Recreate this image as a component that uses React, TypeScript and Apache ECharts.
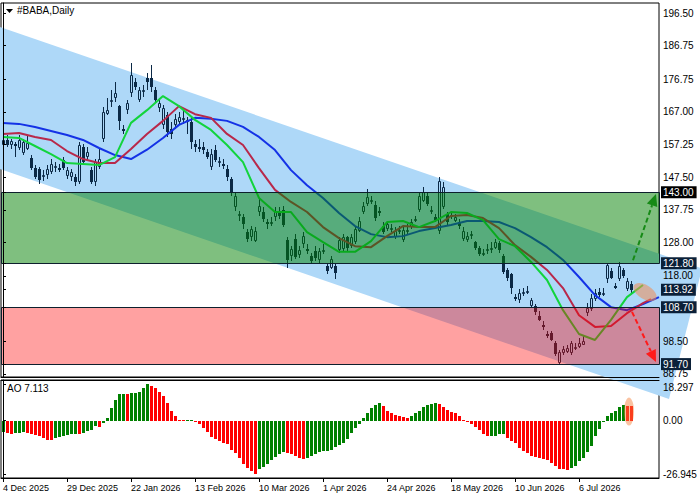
import React, { useEffect, useRef } from "react";
import * as echarts from "echarts";

// ---------- data ----------
const OPEN = [157.0,158.6,157.2,157.5,156.2,154.7,156.0,153.2,150.2,149.8,148.0,148.0,149.0,150.5,150.2,152.5,147.8,147.5,147.5,146.0,156.5,153.5,149.5,146.0,150.5,159.0,166.5,170.0,171.0,168.6,162.0,167.5,172.6,176.0,170.5,173.3,177.0,177.2,173.5,168.0,163.0,166.0,162.0,163.0,164.0,165.0,164.0,164.0,157.5,156.5,156.5,155.0,150.5,155.5,152.0,151.5,150.0,147.0,138.5,136.0,135.5,131.0,129.5,128.5,137.2,137.0,134.0,134.0,135.5,137.0,137.8,128.7,124.0,129.0,124.4,127.5,126.2,124.0,125.5,122.8,125.5,121.0,120.5,121.0,125.8,126.0,129.5,127.0,128.0,131.5,137.0,139.5,140.5,139.2,137.5,133.0,132.0,132.0,129.5,131.5,128.7,131.5,132.5,134.5,137.7,140.5,142.0,137.5,135.5,131.5,138.5,136.5,136.0,134.5,134.0,129.0,128.7,130.0,128.0,126.5,124.8,125.5,126.0,126.5,127.7,124.0,119.8,118.5,111.8,110.8,112.5,113.0,109.0,109.0,106.0,103.5,100.8,100.9,98.0,92.0,95.0,95.3,95.0,96.5,96.9,97.5,107.0,108.0,111.0,113.2,112.5,117.0,119.5,114.9,117.0,119.8,114.0,115.5];
const HIGH = [159.5,160.0,159.0,158.0,160.2,159.0,160.0,154.0,151.0,150.5,149.5,151.0,153.0,152.0,151.5,153.5,150.5,150.0,148.5,158.0,157.5,156.5,150.5,153.0,156.0,168.5,171.0,173.5,176.0,169.0,163.0,170.5,181.6,177.0,174.5,175.0,178.5,181.0,174.5,171.0,169.0,167.0,164.0,166.5,167.0,167.5,165.5,165.5,158.5,159.0,158.0,156.0,156.0,157.0,153.5,153.0,151.0,147.5,143.0,137.5,136.5,132.0,133.0,132.5,141.0,138.5,135.0,135.5,138.5,138.5,139.0,129.5,127.0,130.5,127.0,131.0,127.5,125.0,127.0,126.5,127.5,122.0,124.0,121.5,129.5,130.5,130.0,130.5,133.0,135.5,140.0,144.0,142.0,140.5,138.5,134.0,134.5,133.5,132.5,133.0,133.0,133.5,135.0,136.0,143.0,144.5,143.0,139.0,136.5,147.5,146.0,137.0,137.0,136.5,135.0,132.5,131.0,131.5,128.5,127.0,126.0,127.5,128.0,129.0,128.5,124.5,120.5,119.0,112.5,114.0,114.5,115.0,111.5,109.5,107.5,104.5,101.5,101.5,98.5,96.0,97.0,97.5,98.5,98.0,99.5,100.0,110.0,112.5,114.0,114.5,114.5,122.0,120.5,116.0,122.2,120.5,117.5,116.5];
const LOW = [156.0,156.5,156.0,153.5,155.5,154.0,155.5,149.5,147.0,145.5,146.5,147.0,148.5,149.0,149.0,149.5,147.0,146.5,145.0,145.5,151.0,152.5,145.5,145.0,150.0,158.0,166.0,168.5,170.0,161.5,160.5,166.5,171.5,173.5,170.0,171.5,173.5,173.0,169.5,167.0,162.0,159.5,159.0,162.0,163.0,163.5,160.5,156.0,155.0,155.0,154.5,153.0,149.5,152.0,150.5,150.0,146.5,142.0,137.5,134.5,132.0,128.0,128.5,128.0,136.0,134.0,132.0,133.0,134.5,135.0,132.5,120.5,122.5,123.0,123.5,126.5,124.5,121.5,122.5,122.0,124.5,118.5,120.0,117.0,125.0,125.5,125.5,126.5,127.5,131.0,136.5,139.0,139.5,134.5,136.0,130.5,131.5,131.0,129.0,130.5,128.0,130.5,132.0,134.0,137.0,140.0,139.0,136.5,134.0,130.5,138.0,133.0,135.0,134.0,132.0,128.5,128.0,129.0,125.8,124.0,124.0,124.5,125.0,126.0,125.0,118.5,116.5,112.5,110.5,110.0,112.0,112.5,108.5,106.5,104.5,102.0,99.5,98.5,94.0,91.4,94.5,95.0,94.5,96.0,96.5,97.5,106.0,107.5,110.5,111.8,112.0,116.0,117.0,114.0,116.5,117.5,113.5,113.0];
const CLOSE = [158.6,157.2,158.3,157.0,158.6,158.0,157.8,150.2,147.5,146.6,148.2,149.8,151.3,150.8,150.0,150.2,149.6,149.0,146.0,157.0,152.0,155.0,146.0,152.0,153.0,167.0,167.5,170.5,172.5,164.3,161.2,169.7,178.0,174.5,173.5,173.6,175.8,174.5,170.5,169.5,168.0,161.0,160.5,165.0,165.5,165.3,164.5,158.0,156.5,156.3,155.5,153.5,154.5,152.6,152.3,151.0,147.6,143.0,141.9,136.5,133.5,129.0,132.0,131.5,139.0,135.0,133.5,134.2,137.5,136.0,133.3,122.8,126.0,123.8,125.8,130.0,125.8,122.5,123.5,125.5,125.8,119.5,123.0,119.0,128.7,129.5,126.4,129.5,132.0,134.5,139.0,141.5,140.8,135.3,137.0,131.0,133.5,132.3,131.5,131.7,131.7,131.8,134.0,134.9,142.0,143.0,139.5,137.7,134.8,146.5,144.5,134.0,136.3,135.5,133.0,131.5,130.0,130.5,126.5,124.5,125.0,126.0,126.5,128.0,125.8,119.2,117.4,114.4,111.0,112.9,113.2,113.5,110.8,107.2,105.0,103.0,100.5,98.9,94.7,95.3,96.3,96.5,98.0,96.9,98.0,98.5,108.5,111.5,113.0,112.4,113.0,121.3,117.5,114.6,120.9,118.0,116.5,113.92];

// Alligator lines, read every MA_STEP bars (shifted forward past the last bar)
const MA_STEP = 4;
const JAW = [163.7,163.4,162.5,161.3,160.1,158.6,156.2,154.1,152.9,155.7,159.2,163.1,165.2,164.9,164.3,162.5,159.5,155.6,149.6,145.1,141.3,136.8,132.9,130.5,129.6,129.9,131.4,132.3,133.2,134.4,134.4,134.1,132.3,129.6,126.6,122.8,117.7,112.3,108.7,107.8,109.6,111.7];
const JAW_END = 164;
const TEETH = [160.4,160.7,159.5,158.6,155.3,152.9,151.7,151.7,155.9,160.4,164.3,168.7,166.3,165.2,160.4,157.1,150.2,143.7,140.1,137.1,132.6,129.3,126.9,126.6,129.9,132.9,132.6,132.6,135.9,136.2,135.3,132.3,127.2,123.7,119.8,114.4,106.3,102.8,103.1,106.9,109.9,111.1];
const TEETH_END = 162;
const LIPS = [159.5,159.2,156.8,154.4,151.7,151.4,151.1,153.5,163.7,167.5,171.7,168.7,164.6,161.6,157.1,152.0,141.3,137.1,137.1,131.1,128.1,125.2,125.2,128.4,134.1,134.4,132.6,134.4,137.1,136.8,134.7,129.0,126.9,122.2,116.8,107.8,100.7,98.9,104.9,111.7,115.3];
const LIPS_END = 160;

const AO = [-6.0,-6.2,-6.6,-6.3,-6.1,-6.0,-6.3,-6.8,-7.3,-8.0,-8.8,-9.6,-9.8,-9.0,-8.2,-7.6,-7.2,-6.9,-6.8,-6.9,-6.2,-5.4,-4.6,-2.8,-3.0,-1.3,1.5,6.3,10.3,13.2,13.3,13.2,13.8,13.9,14.5,16.5,18.297,17.2,16.3,14.5,12.2,8.8,4.6,2.2,0.3,0.2,0.25,0.3,-0.5,-1.5,-3.8,-5.8,-8.5,-9.4,-10.2,-11.2,-11.9,-14.6,-16.2,-18.6,-21.7,-23.8,-25.5,-26.945,-24.5,-23.5,-21.8,-20.0,-18.4,-16.8,-15.6,-16.2,-17.0,-18.0,-19.0,-19.5,-18.6,-17.6,-16.8,-16.0,-15.5,-15.2,-14.7,-13.5,-12.2,-11.4,-9.2,-6.5,-3.6,-1.6,1.4,4.0,6.5,8.0,8.6,7.2,5.0,4.0,2.6,2.1,1.6,1.2,2.5,4.0,5.0,7.0,8.0,8.4,8.6,8.1,7.0,5.1,4.1,3.9,2.1,0.3,-0.5,-1.6,-3.2,-5.0,-7.0,-8.0,-7.9,-7.7,-7.0,-6.9,-9.0,-10.2,-11.3,-14.0,-15.3,-16.5,-17.7,-18.4,-18.9,-19.3,-20.0,-21.3,-23.0,-24.3,-24.6,-24.7,-24.0,-23.0,-20.5,-19.0,-16.0,-13.0,-8.0,-4.0,-0.8,2.3,4.0,5.0,7.0,8.0,7.5,7.113];

const X_LABELS = ["4 Dec 2025","29 Dec 2025","22 Jan 2026","13 Feb 2026","10 Mar 2026","1 Apr 2026","24 Apr 2026","18 May 2026","10 Jun 2026","6 Jul 2026"];
const X_LABEL_STEP = 16;
const PRICE_TICKS = [196.5,186.75,176.75,167.0,157.25,147.5,137.75,128.0,118.0,98.5,88.75];
const BLACK_LEVELS = [143.0];
const NAVY_LEVELS = [121.8,113.92,108.7,91.7];
const AO_TICKS = [18.297,0,-26.945];

// drawn objects (data coordinates: bar index, price)
const ZONES = [[143.0,121.8],[108.7,91.7]];
const CHANNEL = [[-0.75,192.32],[174.75,120.24],[166.5,81.25],[-0.75,149.94]];
const ARROWS = [[157.5,122.7,163.25,142.5],[157.25,107.3,163.25,92.3]];
const MARK_MAIN = [160.5,113.2];
const MARK_AO = [156.5,4.5];

// ---------- style ----------
const FONT = "'Liberation Sans', Arial, sans-serif";
const CANDLE = "#0b2946";
const ZONE_FILL = ["rgba(0,128,0,0.5)","rgba(255,0,0,0.37)"];
const ARROW_COLORS = ["#168a16","#ff1a1a"];
const Y_MIN = 87.85, Y_MAX = 199.485;
const AO_MIN = -28.9, AO_MAX = 20.4;

const near = (a: number, b: number) => Math.abs(a - b) < 1e-6;

export default function App() {
  const ref = useRef<HTMLDivElement>(null);
  useEffect(() => {
    const chart = echarts.init(ref.current as HTMLDivElement, null, { renderer: "svg" });
    const candleData = OPEN.map((o, i) => [i, o, CLOSE[i], LOW[i], HIGH[i]]);
    const maData = (vals: number[], end: number) => vals.map((v, k) => [Math.min(k * MA_STEP, end), v]);
    const aoData = AO.map((v, i) => [i, v, i === 0 || v >= AO[i - 1] ? 1 : 0]);
    const priceLabels = [...PRICE_TICKS, ...BLACK_LEVELS, ...NAVY_LEVELS];
    const xTicks = X_LABELS.map((_, k) => k * X_LABEL_STEP);
    const textBase = { fontSize: 10, fontFamily: FONT, color: "#000" };
    const lineOnly = (gridIndex: number, position: string) => ({
      gridIndex, type: "value", min: -0.5, max: 164, z: 8, position,
      axisLine: { show: true, onZero: false, lineStyle: { color: "#000", width: 1 } },
      axisTick: { show: false }, axisLabel: { show: false }, splitLine: { show: false },
    });

    const option: any = {
      animation: false,
      backgroundColor: "#fff",
      title: [
        { text: "#BABA,Daily", left: 17, top: 5, padding: 0, textStyle: { ...textBase, fontWeight: "normal" } },
        { text: `AO ${AO[AO.length - 1]}`, left: 7, top: 383, padding: 0, textStyle: { ...textBase, fontWeight: "normal" } },
      ],
      graphic: [
        { type: "polygon", shape: { points: [[6, 9], [13, 9], [9.5, 13]] }, style: { fill: "#000" } },
      ],
      grid: [
        { left: 1, top: 3, width: 658, height: 374, show: true, borderColor: "#000", borderWidth: 1, backgroundColor: "transparent" },
        { left: 1, top: 380, width: 658, height: 98, show: true, borderColor: "#000", borderWidth: 1, backgroundColor: "transparent" },
      ],
      xAxis: [
        lineOnly(0, "bottom"),
        {
          gridIndex: 1, type: "value", min: -0.5, max: 164, z: 8, position: "bottom",
          axisLine: { show: true, onZero: false, lineStyle: { color: "#000", width: 1 } },
          axisTick: { show: true, length: 4, customValues: xTicks, lineStyle: { color: "#000" } },
          axisLabel: {
            customValues: xTicks, margin: 5, align: "left", fontSize: 9, fontFamily: FONT, color: "#000",
            formatter: (v: number) => X_LABELS[Math.round(v / X_LABEL_STEP)] || "",
          },
          splitLine: { show: false },
        },
        lineOnly(1, "top"),
      ],
      yAxis: [
        {
          gridIndex: 0, type: "value", position: "right", min: Y_MIN, max: Y_MAX, z: 8,
          axisLine: { show: true, lineStyle: { color: "#000", width: 1 } },
          axisTick: { show: true, length: 3, customValues: priceLabels, lineStyle: { color: "#000" } },
          splitLine: { show: false },
          axisLabel: {
            customValues: priceLabels, margin: 2, ...textBase,
            formatter: (v: number) => {
              const s = v.toFixed(2);
              if (BLACK_LEVELS.some((b) => near(b, v))) return `{k|${s}}`;
              if (NAVY_LEVELS.some((b) => near(b, v))) return `{n|${s}}`;
              return `{a|${s}}`;
            },
            rich: {
              a: { ...textBase, padding: [0, 0, 0, 2] },
              k: { ...textBase, color: "#fff", backgroundColor: "#000", padding: [1, 3, 1, 2] },
              n: { ...textBase, color: "#fff", backgroundColor: "#0b2038", padding: [1, 3, 1, 2] },
            },
          },
        },
        {
          gridIndex: 1, type: "value", position: "right", min: AO_MIN, max: AO_MAX, z: 8,
          axisLine: { show: true, lineStyle: { color: "#000", width: 1 } },
          axisTick: { show: true, length: 3, customValues: AO_TICKS, lineStyle: { color: "#000" } },
          splitLine: { show: false },
          axisLabel: {
            customValues: AO_TICKS, margin: 2, ...textBase,
            formatter: (v: number) => {
              if (near(v, 0)) return "{a|0.00}";
              if (v > 0) return `{t|${v}}`;
              return `{a|${v}}`;
            },
            rich: {
              a: { ...textBase, padding: [0, 0, 0, 2] },
              t: { ...textBase, padding: [6, 0, 0, 2] },
            },
          },
        },
      ],
      series: [
        {
          name: "channel", type: "custom", xAxisIndex: 0, yAxisIndex: 0, z: 1, silent: true, clip: false,
          data: [[0, 0]],
          renderItem: (_p: any, api: any) => ({
            type: "polygon",
            shape: { points: CHANNEL.map((pt) => api.coord(pt)) },
            style: { fill: "#aed8f8" },
          }),
        },
        {
          name: "candles", type: "custom", xAxisIndex: 0, yAxisIndex: 0, z: 2, silent: true,
          data: candleData,
          renderItem: (_p: any, api: any) => {
            const i = api.value(0), o = api.value(1), c = api.value(2), l = api.value(3), h = api.value(4);
            const po = api.coord([i, o]), pc = api.coord([i, c]), ph = api.coord([i, h]), pl = api.coord([i, l]);
            const x = Math.round(po[0]);
            const top = Math.round(Math.min(po[1], pc[1]));
            const bot = Math.max(Math.round(Math.max(po[1], pc[1])), top + 2);
            const yh = Math.round(ph[1]), yl = Math.round(pl[1]);
            const wx = x + 0.5;
            const ls = { stroke: CANDLE, lineWidth: 1 };
            const children: any[] = [];
            if (c >= o) {
              children.push({ type: "line", shape: { x1: wx, y1: yh, x2: wx, y2: top }, style: ls });
              children.push({ type: "line", shape: { x1: wx, y1: bot, x2: wx, y2: yl }, style: ls });
              children.push({ type: "rect", shape: { x: x - 0.5, y: top + 0.5, width: 2, height: Math.max(bot - top - 1, 1) }, style: { fill: "none", stroke: CANDLE, lineWidth: 1 } });
            } else {
              children.push({ type: "line", shape: { x1: wx, y1: yh, x2: wx, y2: yl }, style: ls });
              children.push({ type: "rect", shape: { x: x - 1, y: top, width: 3, height: bot - top }, style: { fill: CANDLE } });
            }
            return { type: "group", children };
          },
        },
        {
          name: "Jaw", type: "line", xAxisIndex: 0, yAxisIndex: 0, z: 3, showSymbol: false, silent: true,
          data: maData(JAW, JAW_END), lineStyle: { color: "#1432e6", width: 2 },
        },
        {
          name: "Teeth", type: "line", xAxisIndex: 0, yAxisIndex: 0, z: 3, showSymbol: false, silent: true,
          data: maData(TEETH, TEETH_END), lineStyle: { color: "#b8284a", width: 2 },
        },
        {
          name: "Lips", type: "line", xAxisIndex: 0, yAxisIndex: 0, z: 3, showSymbol: false, silent: true,
          data: maData(LIPS, LIPS_END), lineStyle: { color: "#12d43c", width: 2 },
        },
        {
          name: "zones", type: "custom", xAxisIndex: 0, yAxisIndex: 0, z: 4, silent: true,
          data: ZONES.map((zn, k) => [k, zn[0], zn[1]]),
          renderItem: (params: any, api: any) => {
            const cs = params.coordSys;
            const y1 = Math.round(api.coord([0, api.value(1)])[1]);
            const y2 = Math.round(api.coord([0, api.value(2)])[1]);
            return {
              type: "rect",
              shape: { x: cs.x + 0.5, y: y1 + 0.5, width: cs.width, height: y2 - y1 },
              style: { fill: ZONE_FILL[params.dataIndex], stroke: "#0d1f2d", lineWidth: 1 },
            };
          },
        },
        {
          name: "arrows", type: "custom", xAxisIndex: 0, yAxisIndex: 0, z: 5, silent: true,
          data: ARROWS,
          renderItem: (params: any, api: any) => {
            const a = api.coord([api.value(0), api.value(1)]);
            const b = api.coord([api.value(2), api.value(3)]);
            const dx = b[0] - a[0], dy = b[1] - a[1];
            const len = Math.hypot(dx, dy);
            const ux = dx / len, uy = dy / len;
            const HL = 12, HW = 5.5;
            const base = [b[0] - ux * HL, b[1] - uy * HL];
            const left = [base[0] - uy * HW, base[1] + ux * HW];
            const right = [base[0] + uy * HW, base[1] - ux * HW];
            const color = ARROW_COLORS[params.dataIndex];
            return {
              type: "group",
              children: [
                { type: "line", shape: { x1: a[0], y1: a[1], x2: base[0], y2: base[1] }, style: { stroke: color, lineWidth: 2, lineDash: [5, 3] } },
                { type: "polygon", shape: { points: [b, left, right] }, style: { fill: color } },
              ],
            };
          },
        },
        {
          name: "mark", type: "scatter", xAxisIndex: 0, yAxisIndex: 0, z: 6, silent: true,
          data: [MARK_MAIN], symbol: "circle", symbolSize: [26, 14], symbolRotate: -32,
          itemStyle: { color: "rgba(242,140,80,0.68)" },
        },
        {
          name: "AO", type: "custom", xAxisIndex: 1, yAxisIndex: 1, z: 2, silent: true,
          data: aoData,
          renderItem: (_p: any, api: any) => {
            const i = api.value(0), v = api.value(1), up = api.value(2);
            const p0 = api.coord([i, 0]), p1 = api.coord([i, v]);
            const x = Math.round(p0[0]);
            const y0 = Math.round(p0[1]), y1 = Math.round(p1[1]);
            return {
              type: "rect",
              shape: { x: x - 1, y: Math.min(y0, y1), width: 3, height: Math.max(Math.abs(y1 - y0), 1) },
              style: { fill: up ? "#008000" : "#ff0000" },
            };
          },
        },
        {
          name: "aomark", type: "scatter", xAxisIndex: 1, yAxisIndex: 1, z: 6, silent: true,
          data: [MARK_AO], symbol: "circle", symbolSize: [10, 28],
          itemStyle: { color: "rgba(245,130,60,0.6)" },
        },
      ],
    };
    chart.setOption(option);
    return () => chart.dispose();
  }, []);
  return <div ref={ref} style={{ position: "fixed", left: 0, top: 0, width: 700, height: 500, background: "#fff" }} />;
}
